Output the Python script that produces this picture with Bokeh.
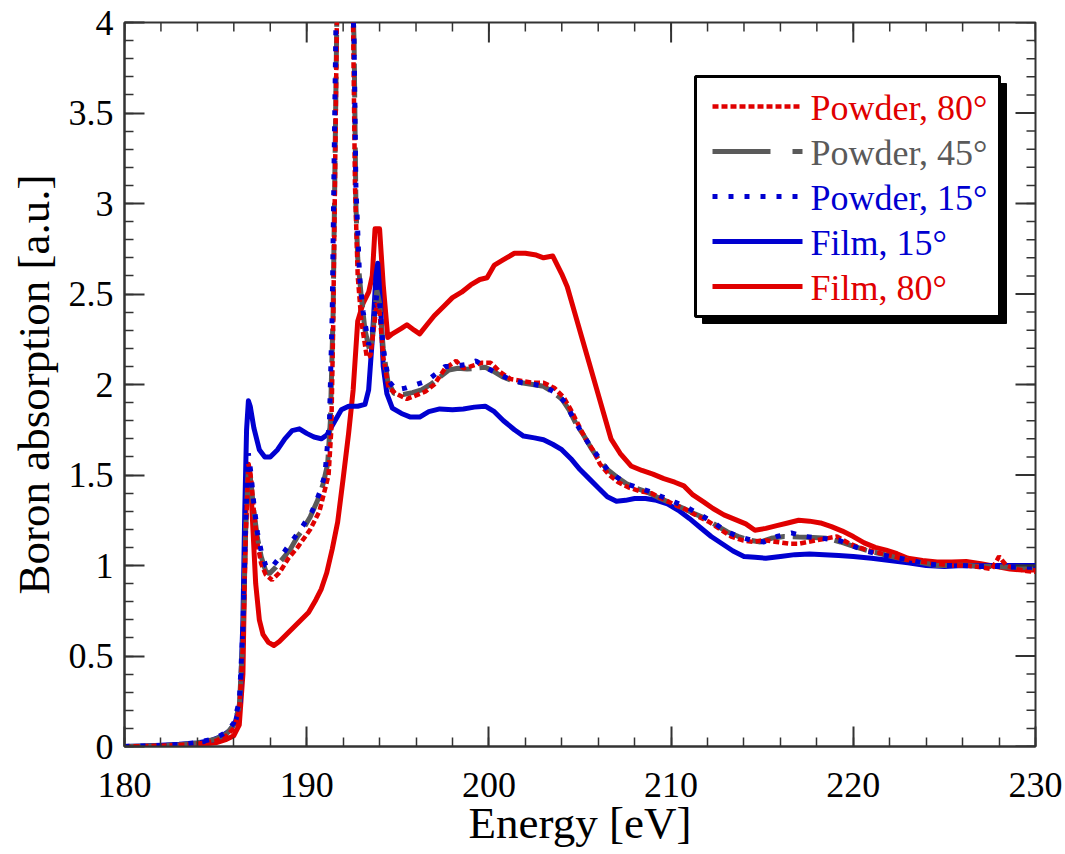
import numpy as np
from bokeh.plotting import figure
from bokeh.models import Range1d, SingleIntervalTicker, CustomJSTickFormatter
from bokeh.core.properties import value
from bokeh.embed import file_html
from bokeh.resources import INLINE

# ---- Boron K-edge absorption spectra -------------------------------------
film15_E = [180, 181, 182, 183, 184, 184.8, 185.3, 185.8, 186.1, 186.35, 186.5, 186.6,
            186.7, 186.8, 186.9, 187.1, 187.4, 187.7, 188.0, 188.4, 188.8, 189.2, 189.6,
            190.0, 190.4, 190.8, 191.1, 191.5, 191.9, 192.3, 192.8, 193.2, 193.4, 193.6,
            193.8, 193.9, 194.05, 194.2, 194.4, 194.7, 195.2, 195.7, 196.2, 196.7, 197.3,
            198.0, 198.6, 199.2, 199.8, 200.3, 200.8, 201.4, 201.9, 202.5, 203.0, 203.5,
            204.0, 204.5, 205.0, 205.5, 206.0, 206.5, 207.0, 207.5, 208.0, 208.6, 209.2,
            209.8, 210.4, 211.0, 211.6, 212.2, 212.8, 213.4, 214.0, 214.6, 215.2, 216.0,
            216.8, 217.6, 218.4, 219.2, 220.0, 221.0, 222.0, 223.0, 224.0, 225.0, 226.0,
            227.0, 228.0, 229.0, 230.0]
film15_A = [0.0, 0.003, 0.007, 0.012, 0.02, 0.035, 0.055, 0.09, 0.14, 0.25, 0.7, 1.3,
            1.75, 1.91, 1.88, 1.76, 1.64, 1.6, 1.6, 1.64, 1.7, 1.745, 1.755,
            1.73, 1.71, 1.70, 1.72, 1.79, 1.86, 1.88, 1.88, 1.89, 1.97, 2.25,
            2.6, 2.67, 2.45, 2.1, 1.95, 1.87, 1.84, 1.82, 1.82, 1.85, 1.865,
            1.86, 1.865, 1.875, 1.88, 1.85, 1.80, 1.75, 1.715, 1.705, 1.695, 1.67,
            1.64, 1.59, 1.53, 1.48, 1.43, 1.38, 1.355, 1.36, 1.37, 1.37, 1.36,
            1.34, 1.305, 1.26, 1.21, 1.16, 1.12, 1.08, 1.05, 1.045, 1.04, 1.05,
            1.06, 1.063, 1.06, 1.055, 1.05, 1.04, 1.028, 1.015, 1.0, 0.994, 1.0,
            0.998, 1.0, 1.0, 1.0]

film80_E = [180, 181, 182, 183, 184, 185, 185.6, 186.0, 186.3, 186.5, 186.6, 186.7,
            186.8, 186.9, 187.05, 187.2, 187.4, 187.6, 187.9, 188.2, 188.5, 188.9,
            189.3, 189.7, 190.1, 190.5, 190.8, 191.1, 191.4, 191.7, 192.0, 192.3,
            192.55, 192.8, 193.1, 193.4, 193.6, 193.75, 194.0, 194.2, 194.45, 194.7,
            195.2, 195.5, 195.9, 196.2, 196.6, 197.0, 197.5, 198.0, 198.5, 199.0,
            199.5, 199.9, 200.3, 200.8, 201.4, 202.0, 202.6, 203.0, 203.5, 204.0,
            204.3, 204.7, 205.1, 205.5, 205.9, 206.3, 206.7, 207.2, 207.8, 208.4,
            209.0, 209.6, 210.2, 210.7, 211.2, 211.8, 212.3, 212.9, 213.5, 214.1,
            214.6, 215.2, 215.8, 216.4, 217.0, 217.6, 218.2, 218.8, 219.4, 220.0,
            220.6, 221.2, 221.8, 222.4, 223.0, 223.8, 224.6, 225.4, 226.2, 227.0,
            227.8, 228.6, 229.3, 230.0]
film80_A = [0.0, 0.0, 0.003, 0.005, 0.01, 0.02, 0.04, 0.06, 0.12, 0.4, 1.0, 1.45,
            1.56, 1.5, 1.2, 0.9, 0.7, 0.62, 0.575, 0.558, 0.58, 0.62,
            0.66, 0.70, 0.74, 0.81, 0.87, 0.96, 1.09, 1.24, 1.48, 1.73,
            1.97, 2.35, 2.45, 2.51, 2.6, 2.86, 2.86, 2.55, 2.26, 2.28,
            2.31, 2.33, 2.30, 2.28, 2.33, 2.38, 2.43, 2.48, 2.51, 2.55,
            2.58, 2.59, 2.66, 2.69, 2.725, 2.725, 2.715, 2.70, 2.71, 2.61,
            2.54, 2.40, 2.26, 2.12, 1.98, 1.84, 1.70, 1.62, 1.55, 1.525,
            1.505, 1.48, 1.46, 1.44, 1.39, 1.35, 1.315, 1.28, 1.255, 1.23,
            1.195, 1.205, 1.22, 1.235, 1.25, 1.245, 1.235, 1.215, 1.19, 1.16,
            1.125, 1.10, 1.085, 1.065, 1.04, 1.028, 1.02, 1.02, 1.022, 1.01,
            0.995, 0.98, 0.975, 0.975]

powder45_E = [180, 182, 183, 184, 185, 185.6, 186.0, 186.3, 186.5, 186.65, 186.8, 186.95,
              187.1, 187.3, 187.5, 187.75, 187.95, 188.3, 188.7, 189.1, 189.5, 189.8,
              190.2, 190.6, 190.9, 191.15, 191.3, 191.45, 191.55, 191.65, 191.75, 192.0,
              192.3, 192.5, 192.6, 192.7, 192.8, 193.0, 193.2, 193.45, 193.6, 193.85,
              194.0, 194.2, 194.45, 194.8, 195.3, 195.8, 196.3, 196.8, 197.3, 197.8,
              198.3, 198.8, 199.3, 199.8, 200.3, 200.8, 201.3, 201.8, 202.4, 203.0,
              203.5, 204.0, 204.4, 204.8, 205.2, 205.6, 206.0, 206.5, 207.0, 207.5,
              208.0, 208.7, 209.3, 210.0, 210.7, 211.3, 211.9, 212.5, 213.1, 213.7,
              214.3, 214.9, 215.5, 216.2, 217.0, 217.8, 218.6, 219.3, 219.9, 220.7,
              221.5, 222.3, 223.0, 223.8, 224.6, 225.4, 226.2, 227.0, 227.8, 228.6,
              229.3, 230.0]
powder45_A = [0.0, 0.005, 0.01, 0.02, 0.04, 0.07, 0.12, 0.22, 0.6, 1.2, 1.55, 1.45,
              1.3, 1.15, 1.05, 0.97, 0.955, 0.99, 1.04, 1.09, 1.16, 1.2,
              1.27, 1.36, 1.45, 1.56, 1.8, 2.4, 3.2, 4.0, 4.6, 4.8,
              4.7, 4.2, 3.9, 3.0, 2.7, 2.48, 2.3, 2.19, 2.25, 2.52,
              2.45, 2.2, 2.02, 1.95, 1.945, 1.955, 1.97, 2.0, 2.04, 2.08,
              2.09, 2.085, 2.09, 2.095, 2.07, 2.04, 2.02, 2.01, 2.0, 1.99,
              1.96, 1.92, 1.86, 1.78, 1.72, 1.65, 1.59, 1.53, 1.49, 1.455,
              1.43, 1.405, 1.375, 1.345, 1.315, 1.285, 1.26, 1.22, 1.185, 1.16,
              1.14, 1.13, 1.15, 1.16, 1.157, 1.155, 1.15, 1.13, 1.11, 1.085,
              1.065, 1.045, 1.03, 1.015, 1.0, 1.0, 1.002, 0.995, 0.995, 0.99,
              0.99, 0.985]

powder80_E = [180, 182, 183, 184, 185, 185.6, 186.0, 186.3, 186.5, 186.65, 186.8, 186.95,
              187.1, 187.3, 187.5, 187.75, 188.1, 188.5, 189.0, 189.5, 190.2, 190.7,
              191.2, 191.35, 191.45, 191.55, 191.65, 191.75, 192.0, 192.3, 192.45, 192.55,
              192.65, 192.8, 193.0, 193.3, 193.5, 193.85, 194.0, 194.2, 194.5, 194.9,
              195.5, 196.0, 196.5, 197.0, 197.6, 198.2, 198.6, 199.0, 199.6, 200.1,
              200.6, 201.2, 201.8, 202.4, 203.0, 203.6, 204.1, 204.5, 204.9, 205.3,
              205.7, 206.1, 206.6, 207.1, 207.7, 208.3, 208.9, 209.5, 210.1, 210.8,
              211.5, 212.1, 212.7, 213.3, 213.9, 214.5, 215.1, 215.8, 216.5, 217.0,
              218.0, 219.1, 219.8, 220.6, 221.4, 222.2, 223.0, 223.8, 224.6, 225.4,
              226.2, 227.0, 227.6, 228.0, 228.4, 229.0, 229.5, 230.0]
powder80_A = [0.0, 0.004, 0.008, 0.015, 0.03, 0.06, 0.1, 0.2, 0.55, 1.15, 1.56, 1.48,
              1.3, 1.12, 1.01, 0.95, 0.92, 0.96, 1.04, 1.1, 1.2, 1.3,
              1.5, 1.75, 2.3, 3.1, 3.96, 4.5, 4.8, 4.7, 4.3, 3.96,
              3.1, 2.6, 2.35, 2.15, 2.16, 2.45, 2.4, 2.15, 1.98, 1.95,
              1.92, 1.94, 1.96, 2.0, 2.09, 2.13, 2.09, 2.10, 2.12, 2.12,
              2.07, 2.03, 2.02, 2.01, 2.01, 1.98, 1.93, 1.86, 1.78, 1.70,
              1.64, 1.56, 1.50, 1.46, 1.43, 1.41, 1.40, 1.37, 1.34, 1.31,
              1.27, 1.24, 1.20, 1.16, 1.14, 1.13, 1.14, 1.13, 1.12, 1.12,
              1.14, 1.16, 1.12, 1.09, 1.07, 1.05, 1.03, 1.02, 1.01, 1.0,
              1.0, 0.99, 0.98, 1.05, 1.0, 0.98, 0.97, 0.965]

powder15_E = [180, 182, 183, 184, 185, 185.6, 186.0, 186.3, 186.5, 186.65, 186.8, 186.95,
              187.1, 187.3, 187.5, 187.75, 188.0, 188.4, 188.8, 189.3, 189.8, 190.3,
              190.7, 191.0, 191.25, 191.4, 191.5, 191.6, 191.7, 192.0, 192.3, 192.5,
              192.6, 192.7, 192.9, 193.1, 193.4, 193.55, 193.85, 194.0, 194.2, 194.5,
              194.9, 195.4, 196.0, 196.6, 197.1, 197.6, 198.1, 198.7, 199.3, 199.9,
              200.5, 201.1, 201.8, 202.5, 203.1, 203.7, 204.2, 204.6, 205.0, 205.5,
              206.0, 206.5, 207.0, 207.6, 208.2, 208.8, 209.5, 210.2, 210.9, 211.6,
              212.3, 213.0, 213.7, 214.4, 215.1, 215.8, 216.6, 217.4, 218.3, 219.2,
              219.9, 220.7, 221.5, 222.3, 223.1, 224.0, 225.0, 226.0, 227.0, 228.0,
              229.0, 230.0]
powder15_A = [0.0, 0.006, 0.012, 0.022, 0.045, 0.08, 0.13, 0.25, 0.65, 1.25, 1.62, 1.5,
              1.34, 1.18, 1.08, 1.0, 0.98, 1.03, 1.08, 1.15, 1.22, 1.3,
              1.4, 1.5, 1.8, 2.4, 3.2, 3.96, 4.6, 4.8, 4.7, 4.2,
              3.9, 3.1, 2.6, 2.4, 2.22, 2.25, 2.5, 2.45, 2.2, 2.02,
              1.97, 1.98, 2.0, 2.02, 2.06, 2.10, 2.10, 2.11, 2.13, 2.09,
              2.06, 2.03, 2.01, 2.0, 1.99, 1.95, 1.90, 1.82, 1.75, 1.67,
              1.60, 1.53, 1.49, 1.45, 1.43, 1.41, 1.38, 1.35, 1.32, 1.28,
              1.24, 1.19, 1.16, 1.14, 1.13, 1.16, 1.18, 1.16, 1.15, 1.14,
              1.11, 1.08, 1.06, 1.045, 1.03, 1.01, 1.0, 1.0, 0.995, 0.995,
              0.99, 0.99]

x_ticks_interval = 10
y_ticks_interval = 0.5
n_minor = 5

legend_labels = ["Powder, 80°", "Powder, 45°", "Powder, 15°", "Film, 15°", "Film, 80°"]

RED = "#E00000"
BLUE = "#0000D0"
GRAY = "#5A5A5A"
SERIF = "Liberation Serif"
AXIS_COLOR = "#333333"

X_MIN, X_MAX = 180, 230
Y_MIN, Y_MAX = 0, 4

p = figure(width=1065, height=854, output_backend="svg", toolbar_location=None,
           x_range=Range1d(X_MIN, X_MAX), y_range=Range1d(Y_MIN, Y_MAX),
           min_border_left=124, min_border_right=30, min_border_top=22,
           min_border_bottom=108, background_fill_color="white",
           border_fill_color="white")
p.outline_line_color = AXIS_COLOR
p.outline_line_width = 2
p.xgrid.visible = False
p.ygrid.visible = False

# spectra
W = 5
p.line(film80_E, film80_A, line_color=RED, line_width=W, line_join="round")
p.line(film15_E, film15_A, line_color=BLUE, line_width=W, line_join="round")
p.line(powder45_E, powder45_A, line_color=GRAY, line_width=W, line_dash="34 8")
p.line(powder80_E, powder80_A, line_color=RED, line_width=4.5, line_dash="6 3")
p.line(powder15_E, powder15_A, line_color=BLUE, line_width=5, line_dash="5 11")

# labelled axes (bottom / left) with inward ticks
fmt = CustomJSTickFormatter(code="return String(Math.round(tick*10)/10);")
for ax, tick in ((p.xaxis[0], x_ticks_interval), (p.yaxis[0], y_ticks_interval)):
    ax.ticker = SingleIntervalTicker(interval=tick, num_minor_ticks=n_minor)
    ax.formatter = fmt
    ax.axis_line_color = AXIS_COLOR
    ax.axis_line_width = 2
    ax.major_tick_in = 20
    ax.major_tick_out = 0
    ax.minor_tick_in = 9
    ax.minor_tick_out = 0
    ax.major_tick_line_color = AXIS_COLOR
    ax.minor_tick_line_color = AXIS_COLOR
    ax.major_tick_line_width = 2
    ax.minor_tick_line_width = 1.5
    ax.major_label_text_font = SERIF
    ax.major_label_text_font_size = "36px"
    ax.major_label_text_color = "black"
    ax.axis_label_text_font = SERIF
    ax.axis_label_text_font_size = "45px"
    ax.axis_label_text_font_style = "normal"
    ax.axis_label_text_color = "black"

p.xaxis.axis_label = "Energy [eV]"
p.yaxis.axis_label = "Boron absorption [a.u.]"
p.xaxis.major_label_standoff = 26
p.xaxis.axis_label_standoff = -2
p.yaxis.major_label_standoff = 11
p.yaxis.axis_label_standoff = 7

# mirrored inward ticks on the top and right edges of the frame
x_major = np.arange(X_MIN, X_MAX + 1e-9, x_ticks_interval)
x_minor = np.arange(X_MIN, X_MAX + 1e-9, x_ticks_interval / n_minor)
y_major = np.arange(Y_MIN, Y_MAX + 1e-9, y_ticks_interval)
y_minor = np.arange(Y_MIN, Y_MAX + 1e-9, y_ticks_interval / n_minor)
p.ray(x=x_major, y=[Y_MAX] * len(x_major), length=20, length_units="screen",
      angle=-np.pi / 2, line_color=AXIS_COLOR, line_width=2)
p.ray(x=x_minor, y=[Y_MAX] * len(x_minor), length=9, length_units="screen",
      angle=-np.pi / 2, line_color=AXIS_COLOR, line_width=1.5)
p.ray(x=[X_MAX] * len(y_major), y=y_major, length=20, length_units="screen",
      angle=np.pi, line_color=AXIS_COLOR, line_width=2)
p.ray(x=[X_MAX] * len(y_minor), y=y_minor, length=9, length_units="screen",
      angle=np.pi, line_color=AXIS_COLOR, line_width=1.5)

# legend panel in the upper-right of the frame (positions in frame pixels)
FRAME_W, FRAME_H = 911.0, 724.0


def fx(px):
    return X_MIN + px * (X_MAX - X_MIN) / FRAME_W


def fy(py):
    return Y_MAX - py * (Y_MAX - Y_MIN) / FRAME_H


box_l, box_r, box_t, box_b = 571, 875, 54, 294
sh = 7
p.quad(left=[fx(box_l + sh)], right=[fx(box_r + sh)], top=[fy(box_t + sh)],
       bottom=[fy(box_b + sh)], fill_color="black", line_color="black")
p.quad(left=[fx(box_l)], right=[fx(box_r)], top=[fy(box_t)], bottom=[fy(box_b)],
       fill_color="white", line_color="black", line_width=3)

row_y = [84, 129, 174, 219, 264]
styles = [dict(line_color=RED, line_width=4.5, line_dash="6 3"),
          dict(line_color=GRAY, line_width=5, line_dash="58 22"),
          dict(line_color=BLUE, line_width=5, line_dash="5 11"),
          dict(line_color=BLUE, line_width=5),
          dict(line_color=RED, line_width=5)]
colors = [RED, GRAY, BLUE, BLUE, RED]
for ry, st, lab, col in zip(row_y, styles, legend_labels, colors):
    p.line([fx(588), fx(678)], [fy(ry), fy(ry)], **st)
    p.text(x=[fx(686)], y=[fy(ry + 1)], text=[lab], text_color=col,
           text_font=value(SERIF), text_font_size="36px",
           text_baseline="middle", text_align="left")

open("out.html", "w").write(file_html(p, INLINE))
